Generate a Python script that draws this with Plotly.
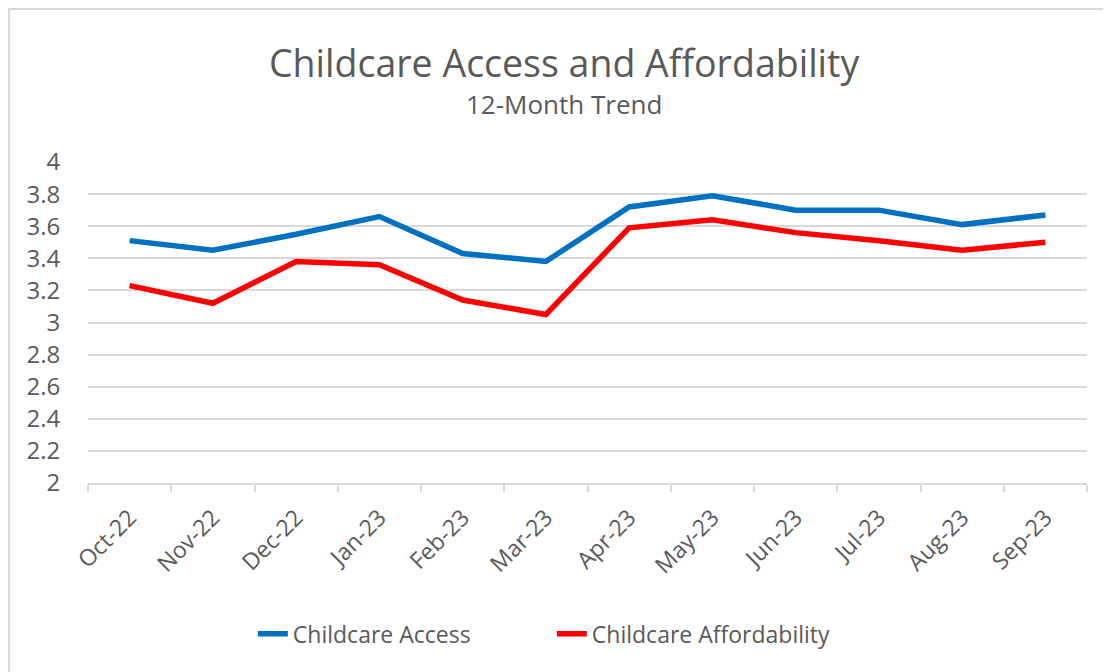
import plotly.graph_objects as go

months = ["Oct-22", "Nov-22", "Dec-22", "Jan-23", "Feb-23", "Mar-23",
          "Apr-23", "May-23", "Jun-23", "Jul-23", "Aug-23", "Sep-23"]
access = [3.51, 3.45, 3.55, 3.66, 3.43, 3.38, 3.72, 3.79, 3.70, 3.70, 3.61, 3.67]
affordability = [3.23, 3.12, 3.38, 3.36, 3.14, 3.05, 3.59, 3.64, 3.56, 3.51, 3.45, 3.50]
y_ticks = [2, 2.2, 2.4, 2.6, 2.8, 3, 3.2, 3.4, 3.6, 3.8, 4]

FONT = "Open Sans"
GRAY = "#595959"

fig = go.Figure()
fig.add_trace(go.Scatter(x=months, y=access, mode="lines", name="Childcare Access",
                         line=dict(color="#0070C0", width=5.5)))
fig.add_trace(go.Scatter(x=months, y=affordability, mode="lines", name="Childcare Affordability",
                         line=dict(color="#FF0000", width=5.5)))

fig.update_layout(
    width=1111, height=672,
    margin=dict(l=80, r=32, t=154, b=197, autoexpand=False),
    paper_bgcolor="white", plot_bgcolor="white",
    font=dict(family=FONT, color=GRAY),
    showlegend=True,
    legend=dict(orientation="h", x=0.165, xanchor="left", y=-0.47, yanchor="middle",
                entrywidth=254, entrywidthmode="pixels",
                font=dict(size=23, color=GRAY, family=FONT)),
    annotations=[
        dict(text="Childcare Access and Affordability", xref="paper", yref="paper",
             x=0.476, y=1.311, xanchor="center", yanchor="middle", showarrow=False,
             font=dict(size=37.5, color=GRAY, family=FONT)),
        dict(text="12-Month Trend", xref="paper", yref="paper",
             x=0.476, y=1.181, xanchor="center", yanchor="middle", showarrow=False,
             font=dict(size=26, color=GRAY, family=FONT)),
    ],
    shapes=[dict(type="rect", xref="paper", yref="paper", x0=-0.079, x1=1.2, y0=-0.8, y1=1.477,
                 line=dict(color="#D9D9D9", width=2), fillcolor="rgba(0,0,0,0)", layer="below")],
)
fig.update_xaxes(type="category", range=[-0.5, 11.5], tickangle=-45, automargin=False,
                 tickfont=dict(size=23, color=GRAY),
                 showgrid=False, showline=True, linecolor="#D9D9D9", linewidth=2,
                 ticks="outside", tickson="boundaries", ticklen=7, tickcolor="#D9D9D9", tickwidth=2,
                 ticklabelstandoff=10)
fig.update_yaxes(range=[2, 4], tickvals=y_ticks, ticktext=[f"{v:g}" for v in y_ticks], automargin=False,
                 tickfont=dict(size=24, color=GRAY), showgrid=True, gridcolor="#D9D9D9", gridwidth=2,
                 zeroline=False, showline=False, ticks="outside", ticklen=22,
                 tickcolor="rgba(0,0,0,0)")

fig.write_html("out.html")
